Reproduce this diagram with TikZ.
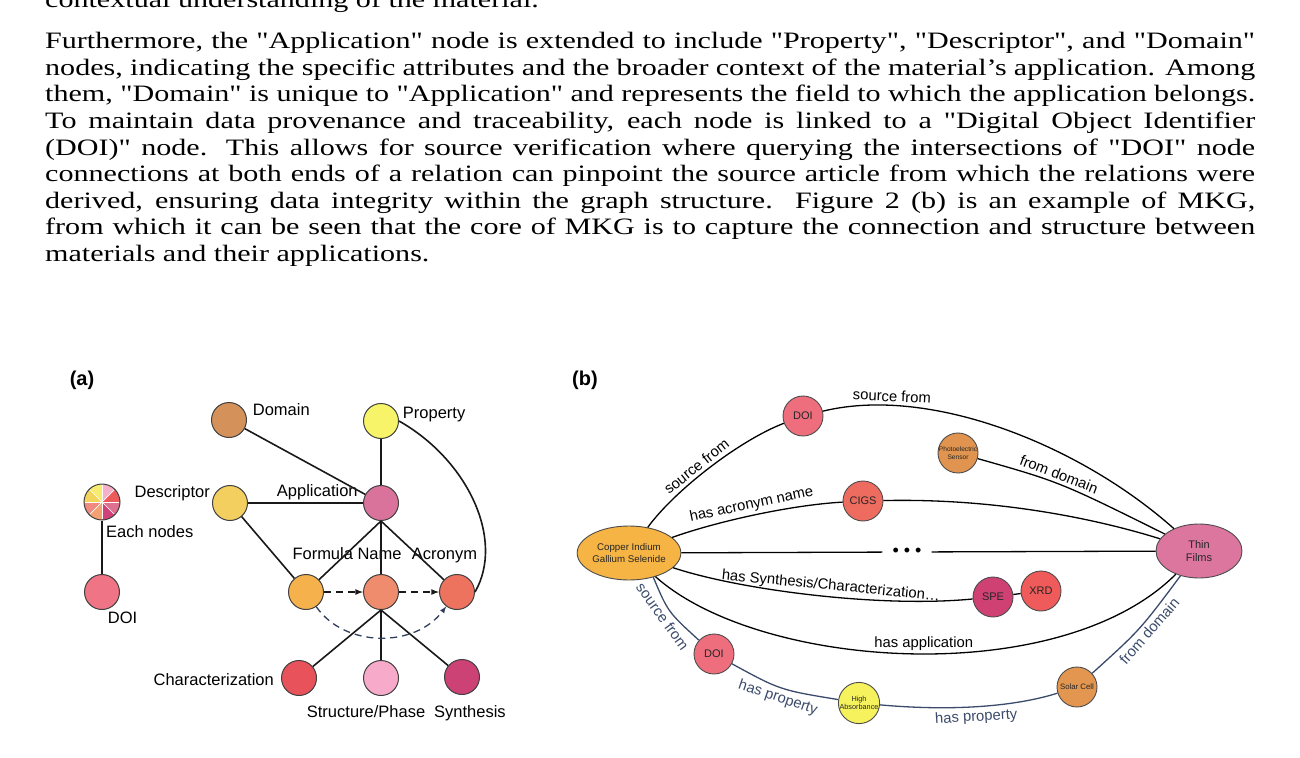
\documentclass[tikz,border=0pt]{standalone}
\usepackage{fontspec}
\setmainfont{Liberation Serif}[FakeStretch=1.28,Ligatures=TeXOff]
\newfontfamily\figsans{Liberation Sans}
\usetikzlibrary{shapes.geometric, arrows, positioning, calc}
\definecolor{cDomainA}{HTML}{D4915A}
\definecolor{cPropA}{HTML}{F8F46A}
\definecolor{cDescA}{HTML}{F2CF5E}
\definecolor{cAppA}{HTML}{D9739C}
\definecolor{cFormA}{HTML}{F5B14C}
\definecolor{cNameA}{HTML}{F08C6E}
\definecolor{cAcrA}{HTML}{EE735F}
\definecolor{cCharA}{HTML}{E8525A}
\definecolor{cStrA}{HTML}{F8AACB}
\definecolor{cSynA}{HTML}{CC4275}
\definecolor{cDoiA}{HTML}{EF7485}
\definecolor{cNavy}{HTML}{2E3E5C}
\definecolor{cDoiB}{HTML}{EE6E7E}
\definecolor{cCigs}{HTML}{EE6B5F}
\definecolor{cPhoto}{HTML}{E0944F}
\definecolor{cCopper}{HTML}{F6B444}
\definecolor{cThin}{HTML}{DC769F}
\definecolor{cSpe}{HTML}{CF4073}
\definecolor{cXrd}{HTML}{EF5A5A}
\definecolor{cHigh}{HTML}{F6F25E}
\definecolor{cSolar}{HTML}{E29650}
\definecolor{cSlate}{HTML}{3B4B6B}
\definecolor{pieA}{HTML}{EC5A5A}
\definecolor{pieB}{HTML}{F6B0C8}
\definecolor{pieC}{HTML}{F8EC70}
\definecolor{pieD}{HTML}{F2D45C}
\definecolor{pieE}{HTML}{EE8A80}
\definecolor{pieF}{HTML}{F4A070}
\definecolor{pieG}{HTML}{D0407A}
\definecolor{pieH}{HTML}{DE7090}
\tikzset{
  bodyline/.style={anchor=base west,inner sep=0pt,font=\fontsize{23.5}{26.5}\selectfont},
  panel/.style={font=\figsans\bfseries\fontsize{20}{22}\selectfont,inner sep=0pt},
  entity/.style={circle,draw=black!75,line width=1pt,minimum size=35pt,inner sep=0pt},
  tag/.style={anchor=base west,inner sep=0pt,font=\figsans\fontsize{16.5}{19}\selectfont},
  tagr/.style={tag,anchor=base east},
  link/.style={line width=1.6pt,black!90},
  seq/.style={link,dash pattern=on 7pt off 5pt,-latex},
  kgnode/.style={circle,draw=black!70,line width=0.9pt,minimum size=40pt,inner sep=0pt,align=center,
    text=black!85,font=\figsans\fontsize{11}{12}\selectfont},
  kgmat/.style={ellipse,draw=black!70,line width=0.9pt,minimum width=86pt,minimum height=54pt,inner sep=0pt,
    align=center,text=black!85},
  rel/.style={line width=1.3pt,black},
  relb/.style={line width=1.3pt,cSlate},
  rellabel/.style={font=\figsans\fontsize{14.8}{16}\selectfont,sloped,inner sep=3pt},
}
\begin{document}
\begin{tikzpicture}[x=1pt,y=-1pt]
\useasboundingbox (0,0) rectangle (1300,757);
\clip (0,0) rectangle (1300,757);
% body text
\node[bodyline] (txt0) at (45,8) {contextual understanding of the material.};
\node[bodyline] (txt1) at (45,49) {\makebox[1210pt][s]{Furthermore, the "Application" node is extended to include "Property", "Descriptor", and "Domain"}};
\node[bodyline] (txt2) at (45,75.5) {\makebox[1210pt][s]{nodes, indicating the specific attributes and the broader context of the material’s application. Among}};
\node[bodyline] (txt3) at (45,102) {\makebox[1210pt][s]{them, "Domain" is unique to "Application" and represents the field to which the application belongs.}};
\node[bodyline] (txt4) at (45,128.5) {\makebox[1210pt][s]{To maintain data provenance and traceability, each node is linked to a "Digital Object Identifier}};
\node[bodyline] (txt5) at (45,155) {\makebox[1210pt][s]{(DOI)" node. This allows for source verification where querying the intersections of "DOI" node}};
\node[bodyline] (txt6) at (45,181.5) {\makebox[1210pt][s]{connections at both ends of a relation can pinpoint the source article from which the relations were}};
\node[bodyline] (txt7) at (45,208) {\makebox[1210pt][s]{derived, ensuring data integrity within the graph structure.\ \ Figure 2 (b) is an example of MKG,}};
\node[bodyline] (txt8) at (45,234.5) {\makebox[1210pt][s]{from which it can be seen that the core of MKG is to capture the connection and structure between}};
\node[bodyline] (txt9) at (45,261) {materials and their applications.};

% (a) schema
\node[panel] (pa) at (82,380) {(a)};
\node[entity,fill=cDomainA] (dom) at (229,420) {};
\node[entity,fill=cPropA] (prop) at (381,421) {};
\node[entity,fill=cDescA] (desc) at (230,503) {};
\node[entity,fill=cAppA] (app) at (381,503) {};
\node[entity,fill=cDoiA] (doiA) at (102,592) {};
\node[entity,fill=cFormA] (form) at (306,592) {};
\node[entity,fill=cNameA] (name) at (381,592) {};
\node[entity,fill=cAcrA] (acr) at (457,592) {};
\node[entity,fill=cCharA] (char) at (299,678) {};
\node[entity,fill=cStrA] (strc) at (381,678) {};
\node[entity,fill=cSynA] (synth) at (462,677) {};
\coordinate (eachc) at (102,502);
\foreach \c [count=\i from 0] in {pieA,pieB,pieC,pieD,pieE,pieF,pieG,pieH}
  \fill[\c] (eachc) -- ++(\i*45:18pt) arc[start angle=\i*45,end angle=\i*45+45,radius=18pt] -- cycle;
\foreach \a in {0,45,...,315}
  \draw[white,line width=0.7pt] (eachc) -- ++(\a:17pt);
\node[entity,minimum size=36pt] (eachn) at (eachc) {};

\node[tag] (domlbl) at (252.7,415) {Domain};
\node[tag] (proplbl) at (402.7,418.7) {Property};
\node[tagr] (desclbl) at (210,497.7) {Descriptor};
\node[tag] (applbl) at (276.7,496.7) {Application};
\node[tag] (eachlbl) at (106,537.7) {Each nodes};
\node[tag] (doilbl) at (107.7,623.3) {DOI};
\node[tag] (formlbl) at (292.3,559.3) {Formula Name};
\node[tag] (acrlbl) at (411.7,559.3) {Acronym};
\node[tagr] (charlbl) at (274,685.3) {Characterization};
\node[tag] (strclbl) at (306.7,717.7) {Structure/Phase};
\node[tag] (synlbl) at (434,717.7) {Synthesis};

\draw[link] (eachn) -- (doiA);
\draw[link] (dom) -- (app);
\draw[link] (prop) -- (app);
\draw[link] (desc) -- (app);
\draw[link] (desc) -- (form);
\draw[link] (app.south) -- (form);
\draw[link] (app.south) -- (name);
\draw[link] (app.south) -- (acr);
\draw[link] (name.south) -- (char);
\draw[link] (name.south) -- (strc);
\draw[link] (name.south) -- (synth);
\draw[link] (prop.east) .. controls (468,460) and (505,540) .. (acr.east);
\draw[seq] (form) -- (name);
\draw[seq] (name) -- (acr);
\draw[seq,draw=cNavy,line width=1.3pt] (form) .. controls (345,648) and (415,648) .. (acr);

% (b) example
\node[panel] (pb) at (585,380) {(b)};
\node[kgmat,fill=cCopper,font=\figsans\fontsize{9.7}{11.5}\selectfont] (cop) at (629,553) {Copper Indium\\Gallium Selenide};
\node[kgmat,fill=cThin,font=\figsans\fontsize{11}{13}\selectfont] (thin) at (1199,551) {Thin\\Films};
\node[kgnode,fill=cDoiB] (doiT) at (803,416) {DOI};
\node[kgnode,fill=cCigs] (cigs) at (863,501) {CIGS};
\node[kgnode,fill=cPhoto,font=\figsans\fontsize{6.6}{7.5}\selectfont] (photo) at (958,453) {Photoelectric\\Sensor};
\node[kgnode,fill=cSpe] (spe) at (993,597) {SPE};
\node[kgnode,fill=cXrd] (xrd) at (1041,591) {XRD};
\node[kgnode,fill=cDoiB] (doiB) at (714,654) {DOI};
\node[kgnode,fill=cHigh,font=\figsans\fontsize{7.3}{8.5}\selectfont] (high) at (859,703) {High\\Absorbance};
\node[kgnode,fill=cSolar,font=\figsans\fontsize{7.8}{9}\selectfont] (solar) at (1077,687) {Solar Cell};
\node[font=\figsans\fontsize{18}{20}\selectfont,inner xsep=10pt] (dots) at (907,552) {•\ •\ •};

\draw[rel] (cop) .. controls (675,490) and (740,440) .. node[rellabel,above,pos=.45] {source from} (doiT);
\draw[rel] (doiT) .. controls (930,385) and (1080,445) .. node[rellabel,above,pos=.2] {source from} (thin);
\draw[rel] (photo) .. controls (1060,482) .. node[rellabel,above,pos=.45] {from domain} (thin);
\draw[rel] (cigs) .. controls (1000,498) and (1100,520) .. (thin);
\draw[rel] (cop) .. controls (715,522) and (790,505) .. node[rellabel,above,pos=.5] {has acronym name} (cigs);
\draw[rel] (cop) -- (dots);
\draw[rel] (dots) -- (thin);
\draw[rel] (cop) .. controls (740,590) and (880,608) .. node[rellabel,above,pos=.55] {has Synthesis/Characterization…} (spe);
\draw[rel] (spe) -- (xrd);
\draw[rel] (cop) .. controls (760,670) and (1060,690) .. node[rellabel,above,pos=.52] {has application} (thin);
\draw[relb] (cop.-45) .. controls (668,612) .. node[rellabel,below,pos=.5] {source from} (doiB);
\draw[relb] (doiB) .. controls (780,690) .. node[rellabel,below,pos=.5] {has property} (high);
\draw[relb] (high) .. controls (960,712) and (1020,705) .. node[rellabel,below,pos=.45] {has property} (solar);
\draw[relb] (solar) .. controls (1140,630) .. node[rellabel,below,pos=.55] {from domain} (thin);
\end{tikzpicture}
\end{document}
